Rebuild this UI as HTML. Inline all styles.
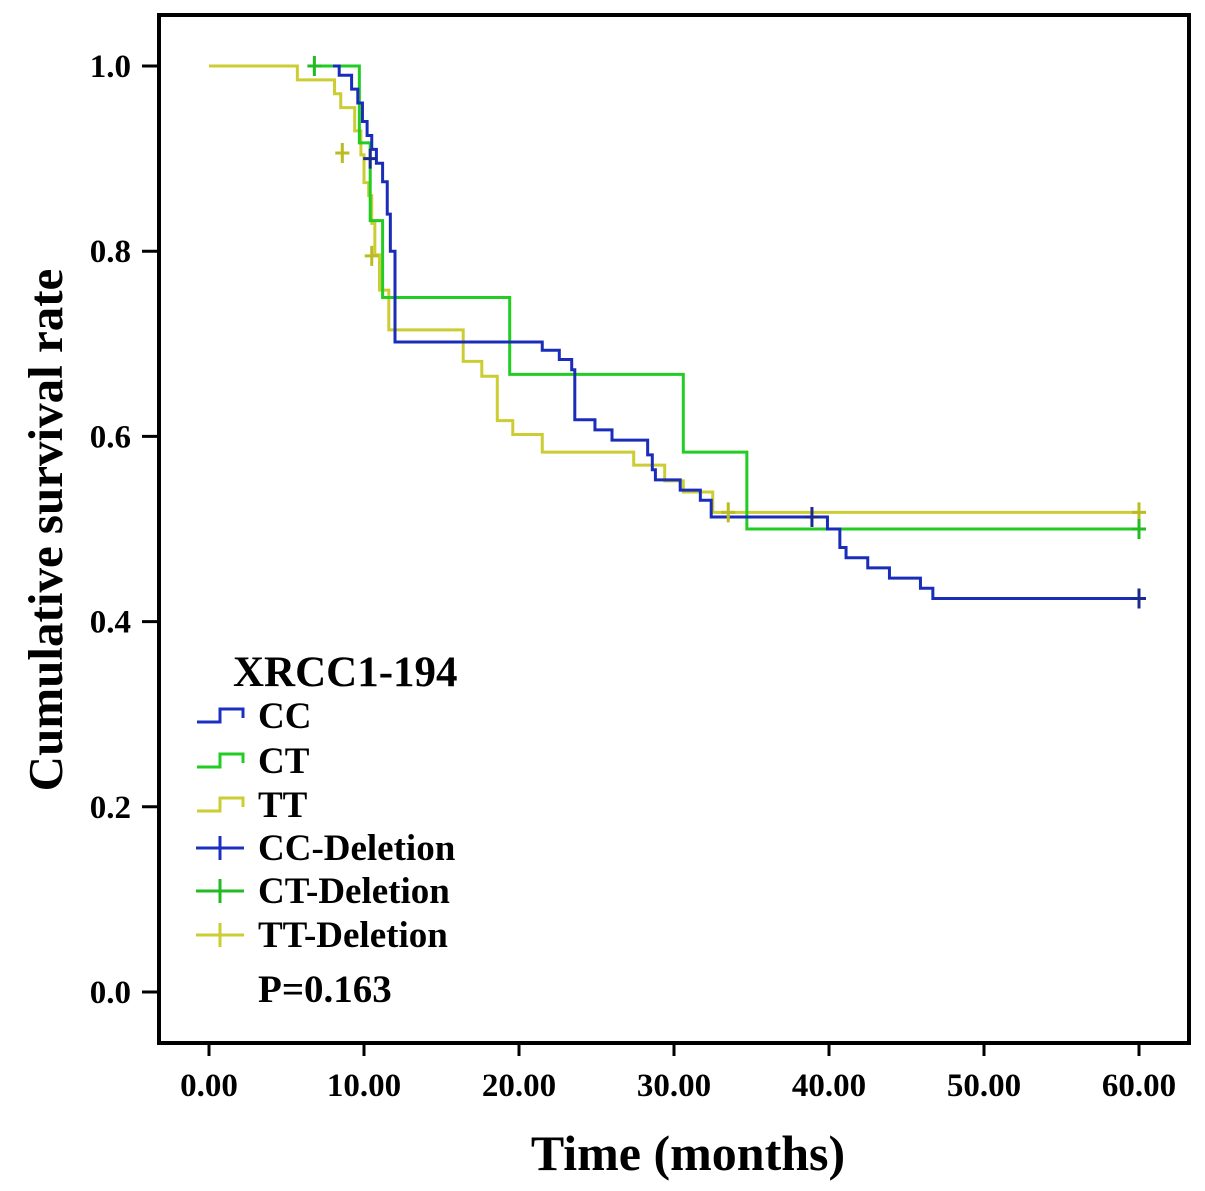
<!DOCTYPE html>
<html><head><meta charset="utf-8"><style>
body{margin:0;background:#fff;}
svg{display:block;font-family:"Liberation Serif",serif;font-weight:bold;}
</style></head><body>
<svg id="chart" width="1205" height="1191" viewBox="0 0 1205 1191" xmlns="http://www.w3.org/2000/svg">
<rect x="0" y="0" width="1205" height="1191" fill="#fff"/>
<g id="plot"></g>
<rect x="159" y="15" width="1030" height="1028" fill="none" stroke="#000" stroke-width="4"/>
<g id="axes"></g>
<text x="688" y="1170" text-anchor="middle" font-size="50">Time (months)</text>
<text transform="translate(62,530) rotate(-90)" text-anchor="middle" font-size="49">Cumulative survival rate</text>
<g>
<text x="233" y="686" font-size="43">XRCC1-194</text>
<path d="M197,722 H220 V709 H243 V718" fill="none" stroke="#1c2fc0" stroke-width="3"/>
<text x="258" y="728" font-size="37">CC</text>
<path d="M197,767 H220 V754 H243 V763" fill="none" stroke="#22cc22" stroke-width="3"/>
<text x="258" y="773" font-size="37">CT</text>
<path d="M197,811 H220 V798 H243 V807" fill="none" stroke="#cccc33" stroke-width="3"/>
<text x="258" y="817" font-size="37">TT</text>
<path d="M196,848 H244 M220,836 V860" fill="none" stroke="#1c2fc0" stroke-width="3"/>
<text x="258" y="860" font-size="37">CC-Deletion</text>
<path d="M196,891 H244 M220,879 V903" fill="none" stroke="#22bb22" stroke-width="3"/>
<text x="258" y="903" font-size="37">CT-Deletion</text>
<path d="M196,935 H244 M220,923 V947" fill="none" stroke="#cccc33" stroke-width="3"/>
<text x="258" y="947" font-size="37">TT-Deletion</text>
<text x="258" y="1002" font-size="39">P=0.163</text>
</g>
</svg>
<script>
const xTicks=[0,10,20,30,40,50,60];
const xTickLabels=["0.00","10.00","20.00","30.00","40.00","50.00","60.00"];
const yTicks=[0,0.2,0.4,0.6,0.8,1.0];
const yTickLabels=["0.0","0.2","0.4","0.6","0.8","1.0"];
const ccTimes=[8.4,9.2,9.6,9.9,10.2,10.5,10.8,11.2,11.5,11.7,12.0,21.5,22.6,23.4,23.6,24.9,26.0,28.3,28.6,28.8,30.4,31.7,32.4,39.9,40.7,41.1,42.5,43.9,45.9,46.7,60];
const ccSurv=[0.99,0.975,0.96,0.94,0.925,0.91,0.895,0.875,0.84,0.80,0.702,0.693,0.683,0.672,0.618,0.607,0.596,0.58,0.564,0.553,0.542,0.531,0.513,0.50,0.48,0.469,0.458,0.447,0.436,0.425,0.425];
const ctTimes=[9.7,10.4,11.2,19.4,30.6,34.7,60];
const ctSurv=[0.917,0.833,0.75,0.667,0.583,0.5,0.5];
const ttTimes=[5.7,8.1,8.5,9.4,9.8,10.0,10.3,10.5,10.7,11.0,11.6,16.4,17.6,18.6,19.6,21.5,27.4,29.4,30.6,32.5,60];
const ttSurv=[0.985,0.97,0.955,0.93,0.904,0.874,0.86,0.83,0.796,0.758,0.715,0.681,0.665,0.617,0.602,0.583,0.569,0.552,0.54,0.518,0.518];
const ccCensorT=[10.4,38.9,60];const ccCensorS=[0.90,0.513,0.425];
const ctCensorT=[6.8,60];const ctCensorS=[1.0,0.5];
const ttCensorT=[8.6,10.5,33.5,60];const ttCensorS=[0.906,0.795,0.518,0.518];
const X=t=>209+t*15.5;
const Y=s=>992-s*926;
const NS="http://www.w3.org/2000/svg";
const plot=document.getElementById('plot'),axes=document.getElementById('axes');
function mk(tag,attrs,parent){const e=document.createElementNS(NS,tag);for(const k in attrs)e.setAttribute(k,attrs[k]);parent.appendChild(e);return e;}
function curve(name,start,times,surv,color){
  let d="M"+X(start)+","+Y(1);
  for(let i=0;i<times.length;i++){d+=" H"+X(times[i])+" V"+Y(surv[i]);}
  const p=mk('path',{d:d,fill:'none',stroke:color,'stroke-width':3},plot);
  
  
}
function censors(name,ts,ss,color){
  for(let i=0;i<ts.length;i++){
    const x=X(ts[i]),y=Y(ss[i]);
    const p=mk('path',{d:`M${x-7},${y} H${x+7} M${x},${y-10} V${y+10}`,stroke:color,'stroke-width':3,fill:'none'},plot);
    
    
  }
}
curve('curve-tt',0,ttTimes,ttSurv,'#cccc33');
curve('curve-ct',6.8,ctTimes,ctSurv,'#22cc22');
curve('curve-cc',8.0,ccTimes,ccSurv,'#1a2db8');
censors('censor-tt',ttCensorT,ttCensorS,'#bbbb22');
censors('censor-ct',ctCensorT,ctCensorS,'#22bb22');
censors('censor-cc',ccCensorT,ccCensorS,'#1a2a90');
xTicks.forEach((t,i)=>{
  const l=mk('line',{x1:X(t),x2:X(t),y1:1043,y2:1056,stroke:'#000','stroke-width':3},axes);
  
  
  const tx=mk('text',{x:X(t),y:1096,'text-anchor':'middle','font-size':33},axes);
  tx.textContent=xTickLabels[i];
  
  
});
yTicks.forEach((s,i)=>{
  const l=mk('line',{x1:142,x2:159,y1:Y(s),y2:Y(s),stroke:'#000','stroke-width':3},axes);
  
  
  const tx=mk('text',{x:131,y:Y(s)+11,'text-anchor':'end','font-size':33},axes);
  tx.textContent=yTickLabels[i];
  
  
});
</script>
</body></html>
